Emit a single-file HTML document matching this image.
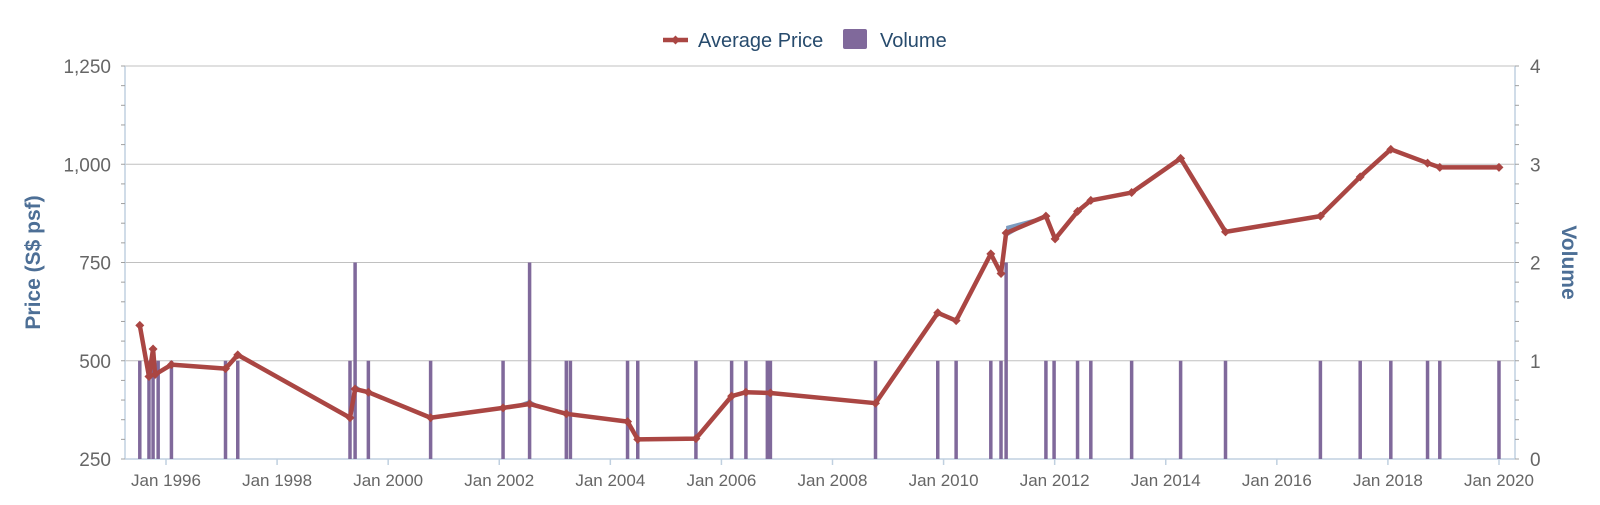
<!DOCTYPE html>
<html><head><meta charset="utf-8"><style>
body{margin:0;background:#fff;}
svg{display:block;font-family:"Liberation Sans",sans-serif;}
</style></head><body>
<svg id="c" width="1600" height="505" xmlns="http://www.w3.org/2000/svg"></svg>
<script>
const L=125,R=1515,T=66,B=459;
const yP=p=>B-(p-250)/250*((B-T)/4);
const yV=v=>B-v*((B-T)/4);
const xP=px=>px/0.98;
const U=(B-T)/4;
let s='';
[500,750,1000,1250].forEach(p=>{s+=`<line x1="${L}" x2="${R}" y1="${yP(p)}" y2="${yP(p)}" stroke="#c0c0c0" stroke-width="1"/>`;});
s+=`<line x1="${L}" x2="${L}" y1="${T}" y2="${B}" stroke="#c0d0e0" stroke-width="1.5"/>`;
s+=`<line x1="${R}" x2="${R}" y1="${T}" y2="${B}" stroke="#c0d0e0" stroke-width="1.5"/>`;
s+=`<line x1="${L}" x2="${R}" y1="${B}" y2="${B}" stroke="#c0d0e0" stroke-width="1.5"/>`;
for(let i=0;i<=20;i++){const y=B-i*U/5;
 s+=`<line x1="${L-4}" x2="${L}" y1="${y}" y2="${y}" stroke="#a0a0a0"/>`;
 s+=`<line x1="${R}" x2="${R+4}" y1="${y}" y2="${y}" stroke="#a0a0a0"/>`;}
[[250,'250'],[500,'500'],[750,'750'],[1000,'1,000'],[1250,'1,250']].forEach(([p,t])=>{
 s+=`<text x="111" y="${yP(p)+7}" text-anchor="end" font-size="19" fill="#666">${t}</text>`;});
for(let v=0;v<=4;v++) s+=`<text x="1530" y="${yV(v)+7}" font-size="19" fill="#666">${v}</text>`;
const x0=166,x1=1499;
for(let k=0;k<=12;k++){const x=x0+k*(x1-x0)/12;
 s+=`<line x1="${x}" x2="${x}" y1="${B}" y2="${B+6}" stroke="#c0d0e0" stroke-width="1.5"/>`;
 s+=`<text x="${x}" y="${B+27}" text-anchor="middle" font-size="17" fill="#666">Jan ${1996+2*k}</text>`;}
s+=`<text transform="translate(40,${(T+B)/2}) rotate(-90)" text-anchor="middle" font-size="21" font-weight="bold" fill="#4d6f96">Price (S$ psf)</text>`;
s+=`<text transform="translate(1562,${(T+B)/2}) rotate(90)" text-anchor="middle" font-size="21" font-weight="bold" fill="#4d6f96">Volume</text>`;
const bars=[137,146,150,155,168,221,233,343,[348,2],361,422,493,[519,2],555,559,615,625,682,717,731,752,755,858,919,937,971,981,[986,2],1025,1033,1056,1069,1109,1157,1201,1294,1333,1363,1399,1411,1469];
bars.forEach(b=>{let px=b,v=1;if(Array.isArray(b)){px=b[0];v=b[1];}
 const x=xP(px);s+=`<rect x="${x-1.75}" y="${yV(v)}" width="3.5" height="${v*U}" fill="#80699b"/>`;});
s+=`<polygon points="${xP(348)},${yP(440)} ${xP(356)},${yP(425)} ${xP(348)},${yP(418)}" fill="#4572a7" opacity="0.7"/>`;
s+=`<polygon points="${xP(986)},${yP(843)} ${xP(1020)},${yP(866)} ${xP(986)},${yP(815)}" fill="#4572a7" opacity="0.7"/>`;
s+=`<polygon points="${xP(510)},${yP(392)} ${xP(519)},${yP(400)} ${xP(530)},${yP(385)}" fill="#4572a7" opacity="0.7"/>`;
const pts=[[137,590],[146,460],[150,530],[152,465],[168,490],[221,480],[233,515],[343,355],[348,428],[361,420],[422,355],[493,380],[519,390],[555,365],[615,345],[625,300],[682,302],[717,410],[731,420],[755,418],[858,392],[919,622],[937,602],[971,772],[981,722],[986,825],[1025,868],[1034,810],[1056,880],[1069,908],[1109,928],[1157,1015],[1201,828],[1294,868],[1333,968],[1363,1038],[1399,1003],[1411,992],[1469,992]];
const P=pts.map(([x,p])=>[xP(x),yP(p)]);
s+=`<polyline points="${P.map(a=>a.join(',')).join(' ')}" fill="none" stroke="#aa4643" stroke-width="4.5" stroke-linejoin="round"/>`;
P.forEach(([x,y])=>{s+=`<polygon points="${x},${y-4.5} ${x+4.5},${y} ${x},${y+4.5} ${x-4.5},${y}" fill="#aa4643"/>`;});
s+=`<line x1="663" x2="688" y1="40" y2="40" stroke="#aa4643" stroke-width="4.5"/><polygon points="675.5,35.5 680,40 675.5,44.5 671,40" fill="#aa4643"/>`;
s+=`<text x="698" y="47" font-size="20" fill="#274b6d">Average Price</text>`;
s+=`<rect x="843" y="29" width="24" height="20" rx="2" fill="#80699b"/>`;
s+=`<text x="880" y="47" font-size="20" fill="#274b6d">Volume</text>`;
document.getElementById('c').innerHTML=s;
</script>
</body></html>
